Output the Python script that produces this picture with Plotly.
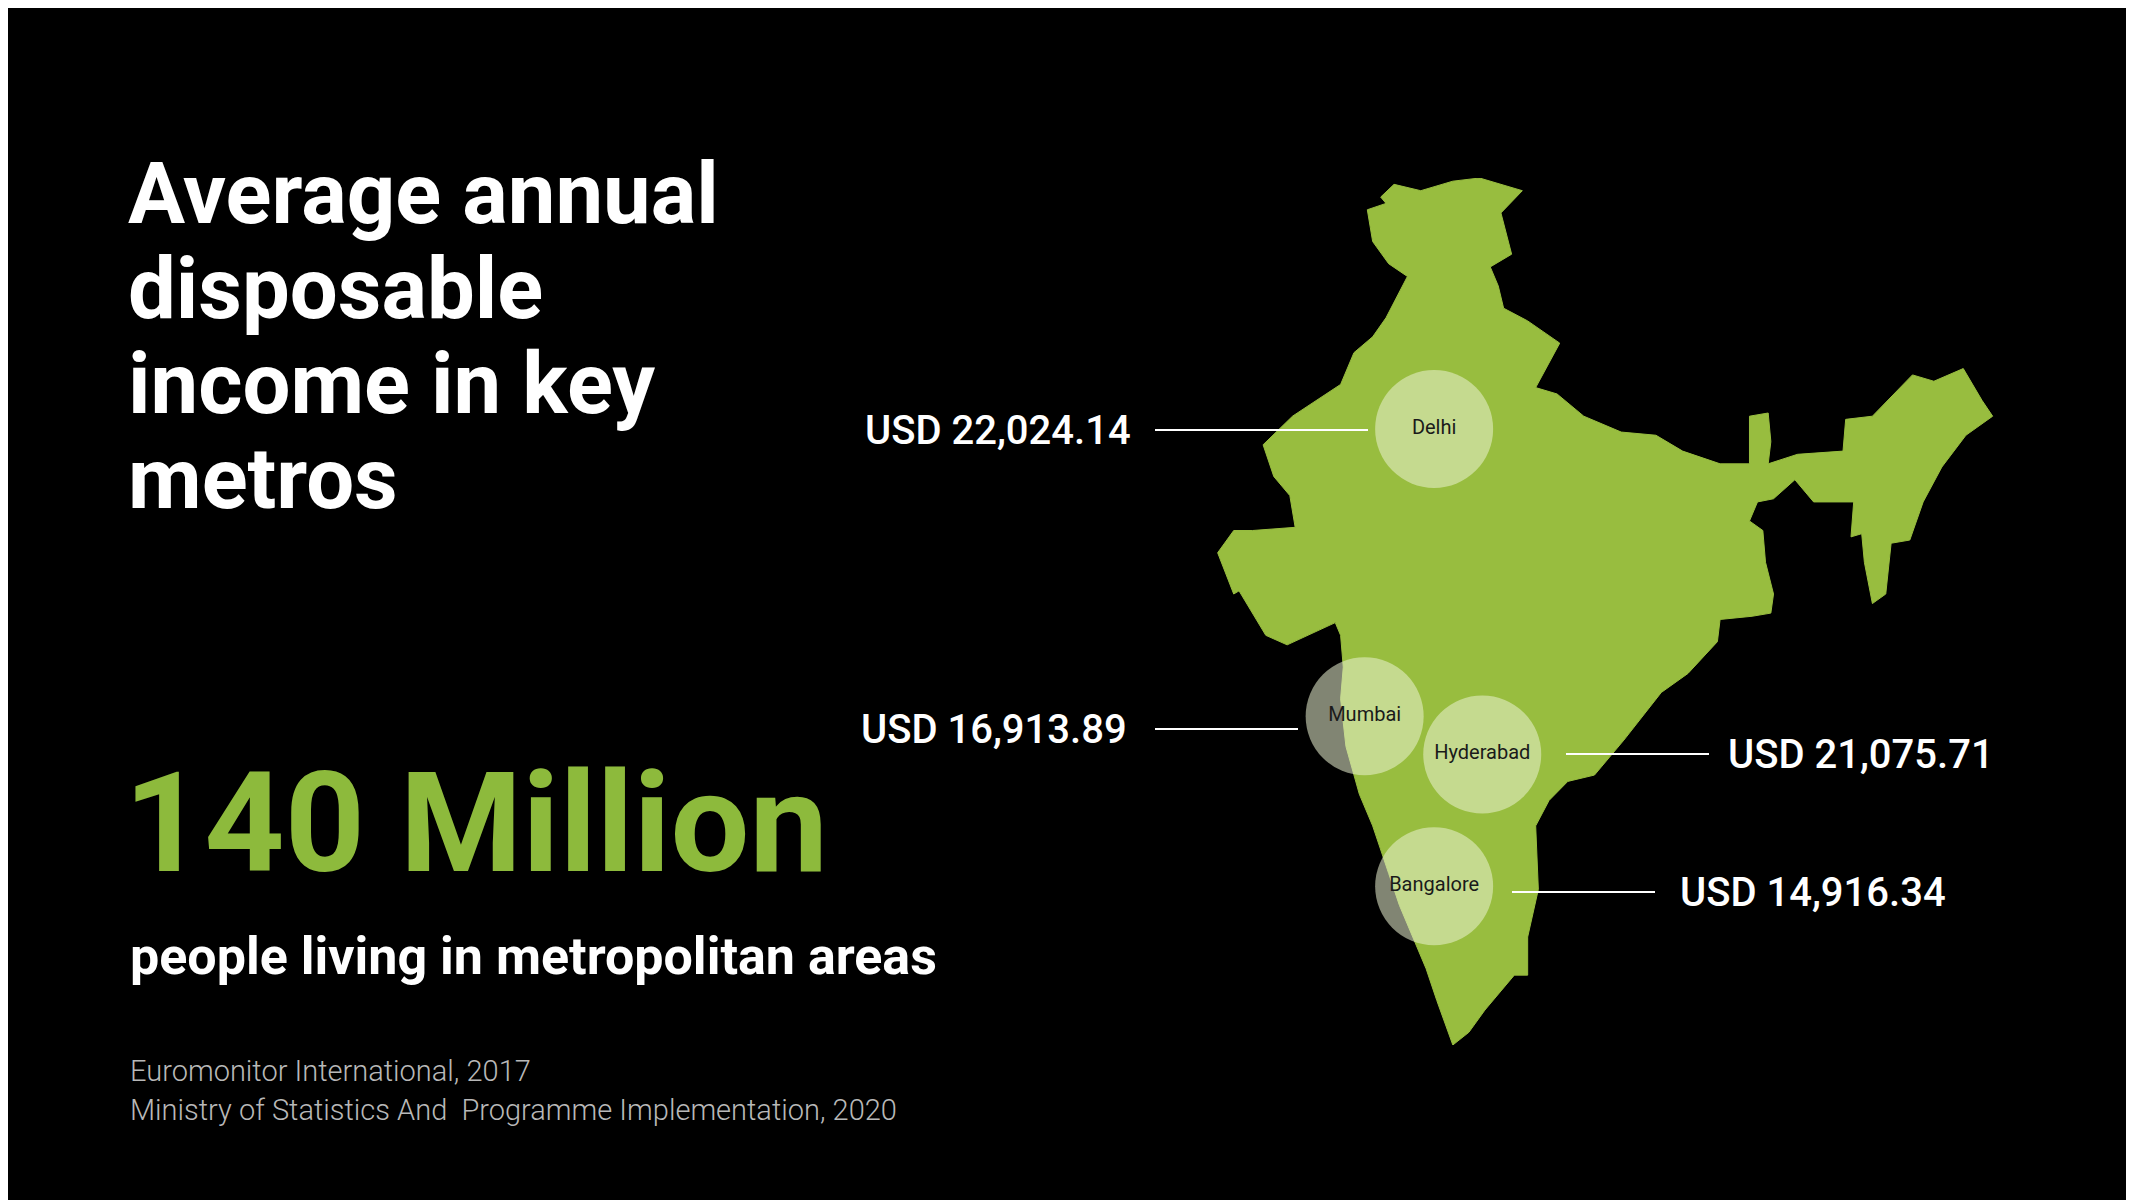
import plotly.graph_objects as go

W, H = 2134, 1200

# rough outline of India (lon, lat)
outline_lon = [68.2, 68.8, 69.0, 70.0, 70.8, 72.1, 72.6, 72.8, 72.9, 72.8, 73.0, 73.5, 74.0, 74.6, 75.0, 75.5,
               76.0, 76.4, 76.8, 77.0, 77.6, 78.2, 79.3, 79.8, 79.8, 80.2, 80.1, 80.6, 81.3, 82.3, 83.4, 84.8,
               85.8, 86.9, 87.0, 88.2, 88.9, 89.0, 88.7, 88.6, 88.1, 88.4, 89.0, 89.8, 90.5, 92.0, 91.9, 92.3,
               92.4, 92.7, 93.2, 93.4, 94.1, 94.6, 95.3, 96.2, 97.2, 96.8, 96.1, 95.0, 94.2, 92.7, 91.7, 91.6,
               89.9, 88.8, 88.9, 88.8, 88.1, 88.1, 87.0, 85.6, 84.6, 83.3, 81.9, 80.9, 80.1, 81.0, 79.8, 78.9,
               78.7, 78.4, 79.2, 78.8, 79.6, 78.0, 77.0, 75.8, 74.8, 74.3, 74.5, 73.8, 74.0, 74.6, 75.3, 74.5,
               74.0, 73.3, 72.8, 71.0, 69.9, 70.3, 70.9, 71.1, 69.5, 68.8, 68.2]
outline_lat = [23.6, 22.3, 22.4, 21.0, 20.7, 21.2, 21.4, 21.0, 20.0, 19.0, 17.5, 16.0, 15.0, 13.5, 12.5, 11.5,
               10.5, 9.5, 8.6, 8.1, 8.5, 9.2, 10.3, 10.3, 11.5, 13.0, 15.0, 15.8, 16.4, 16.6, 17.7, 19.2,
               19.8, 20.8, 21.5, 21.6, 21.7, 22.3, 23.3, 24.3, 24.6, 25.2, 25.3, 25.9, 25.2, 25.2, 24.1, 24.2,
               23.3, 22.0, 22.3, 23.9, 24.0, 25.2, 26.3, 27.3, 27.9, 28.4, 29.4, 29.0, 29.2, 27.9, 27.8, 26.8,
               26.7, 26.4, 27.1, 28.0, 27.9, 26.4, 26.4, 26.8, 27.3, 27.4, 27.9, 28.6, 28.8, 30.2, 30.9, 31.3,
               32.0, 32.6, 33.0, 34.3, 35.0, 35.4, 35.3, 35.0, 35.2, 34.8, 34.6, 34.4, 33.4, 32.7, 32.3, 31.0,
               30.4, 29.9, 28.9, 27.9, 27.0, 26.0, 25.4, 24.4, 24.3, 24.3, 23.6]

cities = ["Delhi", "Mumbai", "Hyderabad", "Bangalore"]
city_lon = [76.3, 73.7, 78.1, 76.3]
city_lat = [27.5, 18.45, 17.25, 13.1]
incomes = ["USD 22,024.14", "USD 16,913.89", "USD 21,075.71", "USD 14,916.34"]

GREEN = "#98BD3F"
FONT = "Roboto"

fig = go.Figure()
fig.add_trace(go.Scatter(x=outline_lon, y=outline_lat, mode="lines", fill="toself",
                         fillcolor=GREEN, line=dict(color=GREEN, width=1), hoverinfo="skip"))
fig.add_trace(go.Scatter(x=city_lon, y=city_lat, mode="markers+text", text=cities,
                         marker=dict(size=118, color="rgba(235,242,210,0.55)", line=dict(width=0)),
                         textfont=dict(family=FONT, size=20, color="#1a1a1a"), textposition="middle center"))

# value labels with leader lines (pixel positions)
lab = [  # (line x0, line x1, y, text x, anchor)
    (1147, 1360, 422, 1125, "right"),
    (1147, 1290, 721, 1121, "right"),
    (1558, 1701, 746, 1718, "left"),
    (1504, 1647, 884, 1670, "left"),
]
for (x0, x1, y, tx, anc), t in zip(lab, incomes):
    fig.add_shape(type="line", xref="paper", yref="paper", x0=x0 / W, x1=x1 / W,
                  y0=1 - y / H, y1=1 - y / H, line=dict(color="white", width=2))
    fig.add_annotation(text=t, xref="paper", yref="paper", x=tx / W, y=1 - y / H,
                       xanchor=anc, yanchor="middle", showarrow=False,
                       font=dict(family=FONT, size=40, color="white", weight=500))

title_lines = ["Average annual", "disposable", "income in key", "metros"]
for i, t in enumerate(title_lines):
    fig.add_annotation(text="<b>" + t + "</b>", xref="paper", yref="paper", x=118 / W,
                       y=1 - (186 + i * 95) / H, xanchor="left", yanchor="middle", showarrow=False,
                       font=dict(family=FONT, size=85, color="white"))

fig.add_annotation(text="<b>140 Million</b>", xref="paper", yref="paper", x=114 / W, y=1 - 815 / H,
                   xanchor="left", yanchor="middle", showarrow=False,
                   font=dict(family=FONT, size=140, color="#8DBA3C"))
fig.add_annotation(text="<b>people living in metropolitan areas</b>", xref="paper", yref="paper",
                   x=120 / W, y=1 - 948 / H, xanchor="left", yanchor="middle", showarrow=False,
                   font=dict(family=FONT, size=52, color="white"))
for i, t in enumerate(["Euromonitor International, 2017",
                       "Ministry of Statistics And  Programme Implementation, 2020"]):
    fig.add_annotation(text=t, xref="paper", yref="paper", x=120 / W, y=1 - (1063 + i * 39) / H,
                       xanchor="left", yanchor="middle", showarrow=False,
                       font=dict(family=FONT, size=29, color="#b8b8b8", weight=300))

fig.update_layout(width=W, height=H, paper_bgcolor="black", plot_bgcolor="black",
                  margin=dict(l=0, r=0, t=0, b=0), showlegend=False,
                  xaxis=dict(domain=[1207 / W, 1990 / W], range=[68.1, 97.4], visible=False),
                  yaxis=dict(domain=[1 - 1037 / H, 1 - 170 / H], range=[8.1, 35.4], visible=False))
fig.write_html("out.html")
